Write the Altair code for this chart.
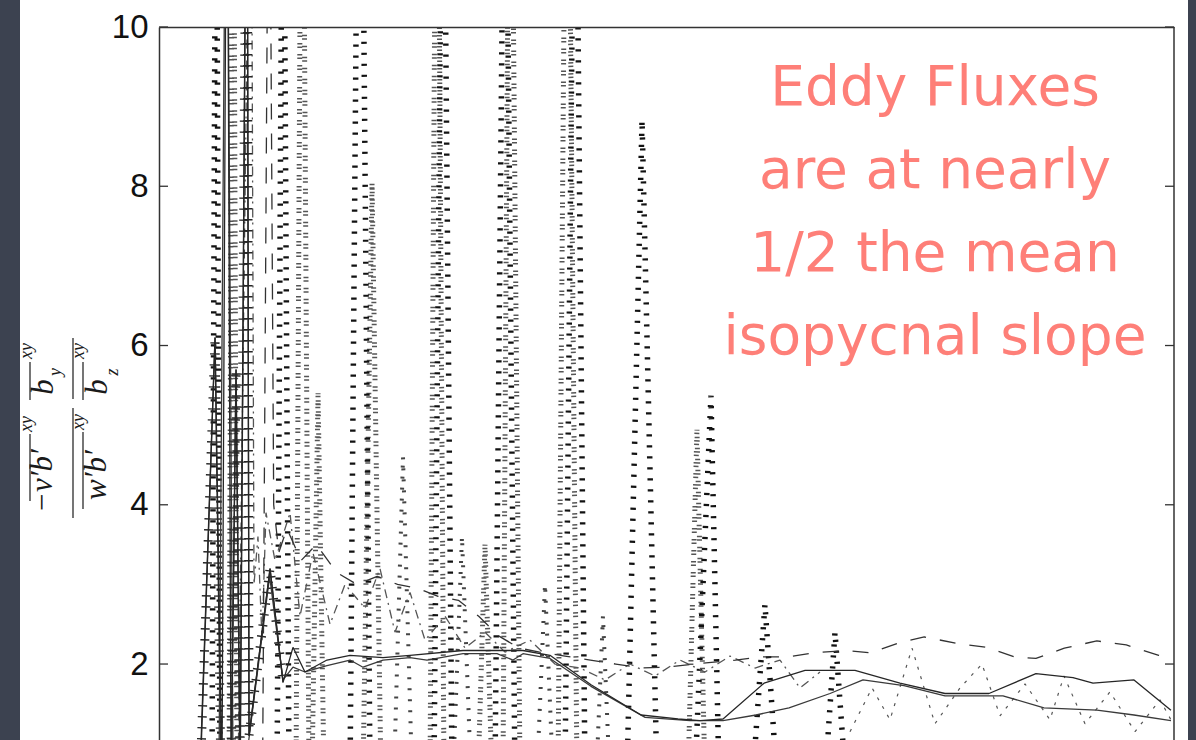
import altair as alt
import pandas as pd

# ---------------------------------------------------------------------------
# Ratio of eddy-flux slope to mean isopycnal slope along the channel
# (x is along-channel position, 0-100 arbitrary units)
# ---------------------------------------------------------------------------

# two smooth (solid) estimates
SOLID_A_X = [4.0, 5.52, 6.2, 6.7, 7.1, 7.59, 8.0, 8.67, 8.87, 10.94, 12.22, 13.2, 14.38, 16.55, 18.82,
             22.07, 24.73, 29.95, 33.3, 35.86, 38.52, 42.56, 47.49, 51.13, 53.3, 55.57, 59.61, 63.65,
             68.57, 73.0, 77.44, 81.77, 86.4, 90.05, 92.02, 96.06, 99.7]
SOLID_A_Y = [0.5, 6.1, 0.5, 14, 0.5, 5.7, 0.5, 14, 1.1, 3.2, 1.77, 2.21, 1.9, 2.05, 2.11,
             2.08, 2.11, 2.17, 2.17, 2.17, 2.11, 1.74, 1.36, 1.31, 1.29, 1.31, 1.76, 1.92,
             1.92, 1.76, 1.63, 1.63, 1.88, 1.83, 1.76, 1.8, 1.42]

SOLID_B_X = [5.9, 6.65, 7.3, 8.8, 10.9, 12.22, 13.2, 14.38, 16.55, 18.82, 20.1, 22.07, 24.73, 26.4,
             29.95, 33.3, 34.88, 35.86, 38.52, 42.56, 47.89, 52.32, 55.57, 58.82, 62.07, 66.11,
             69.36, 73.4, 77.44, 83.15, 87.19, 92.41, 96.06, 99.7]
SOLID_B_Y = [0.5, 14, 0.6, 1.0, 3.1, 1.8, 1.96, 1.9, 1.98, 2.05, 1.96, 2.05, 2.08, 2.05,
             2.13, 2.13, 2.05, 2.13, 2.07, 1.72, 1.33, 1.29, 1.29, 1.36, 1.45, 1.63,
             1.8, 1.73, 1.6, 1.6, 1.45, 1.42, 1.36, 1.29]

# estimate drawn with '+' markers
PLUS_X = [4.04, 5.52, 6.11, 7.09, 7.59, 7.98, 8.67, 8.87, 10.94, 12.22]
PLUS_Y = [0.5, 6.1, 0.5, 0.5, 5.7, 0.6, 14, 1.1, 3.2, 1.77]

# long-dashed estimate
DASH_X = [10.2, 10.84, 11.3, 11.8, 12.6, 14.0, 15.5, 17.5, 19.5, 21.5, 23.5, 25.5, 27.5, 29.5, 31.5,
          33.5, 35.5, 37.5, 40.0, 42.5, 45.0, 47.5, 50.0, 53.5, 56.8, 59.2, 62.0, 64.5, 67.7, 70.1,
          73.0, 75.4, 78.6, 81.5, 84.3, 86.4, 89.2, 92.4, 95.3, 98.5, 99.7]
DASH_Y = [0.5, 14, 4.0, 3.4, 3.7, 3.3, 3.5, 3.15, 3.0, 3.1, 3.0, 2.95, 2.85, 2.8, 2.6,
          2.35, 2.2, 2.15, 2.1, 2.05, 2.0, 1.95, 1.96, 2.01, 2.05, 2.09, 2.09, 2.14, 2.17, 2.14,
          2.27, 2.34, 2.26, 2.21, 2.09, 2.07, 2.2, 2.29, 2.24, 2.11, 2.07]

# dash-dot estimate
DASHDOT_X = [7.78, 9.06, 9.36, 9.75, 10.15, 10.54, 11.43, 12.91, 13.89, 15.17, 16.85, 18.33, 20.3,
             21.77, 23.25, 24.73, 26.21, 28.18, 30.15, 32.12, 34.09, 36.55, 39.01, 41.48, 43.94,
             46.4, 48.87, 51.33, 53.79, 56.26, 58.72, 61.18, 63.15, 65.12]
DASHDOT_Y = [0.5, 14, 3.0, 3.6, 2.3, 3.9, 3.3, 3.9, 2.6, 3.4, 2.5, 3.0, 2.7,
             3.2, 2.4, 2.9, 2.3, 2.6, 2.2, 2.4, 2.15, 2.3, 2.0, 1.95, 1.8,
             2.0, 1.85, 2.05, 1.9, 2.1, 1.95, 2.05, 1.7, 1.9]

# dotted estimates with the large spikes
DOT1_X = [5.22, 5.62, 6.01, 11.63, 12.22, 12.81, 18.82, 19.8, 20.79, 27.09, 27.98, 28.87, 33.1, 34.09,
          35.07, 40.0, 40.99, 41.97, 46.11, 47.59, 49.06, 52.81, 54.38, 55.17, 58.52, 59.7, 60.69,
          65.81, 66.6, 67.39]
DOT1_Y = [0.6, 14, 0.6, 0.6, 14, 0.6, 0.6, 16, 0.6, 0.6, 14, 0.6, 0.6, 14,
          0.6, 0.6, 14, 0.6, 0.6, 8.83, 0.6, 0.6, 5.37, 0.6, 0.6, 2.75, 0.9,
          0.9, 2.4, 1.0]

DOT2_X = [6.9, 7.29, 7.68, 13.5, 14.09, 14.78, 15.07, 15.67, 16.26, 20.1, 20.99, 21.87, 26.7, 27.39,
          28.08, 31.43, 32.12, 32.81, 33.89, 34.58, 35.57, 39.31, 40.2, 41.18, 52.12, 53.0, 53.79]
DOT2_Y = [0.6, 15, 0.6, 0.6, 15, 0.6, 0.6, 5.4, 0.6, 0.6, 8.04, 0.6, 0.6, 15,
          0.6, 0.6, 3.5, 0.6, 0.6, 15, 0.6, 0.6, 15, 0.6, 0.6, 4.94, 0.6]

DOT3_X = [23.15, 24.04, 24.93, 28.97, 29.85, 30.74, 37.24, 38.03, 38.82, 43.15, 43.74, 44.33]
DOT3_Y = [0.6, 4.6, 0.6, 0.6, 3.6, 0.6, 0.6, 3.0, 0.6, 0.8, 2.6, 0.8]

# short-dashed wiggle on the downstream end
WIGGLE_X = [68.08, 70.25, 72.02, 74.19, 76.45, 78.92, 81.08, 82.86, 85.32, 87.78, 89.16, 91.23,
            93.69, 96.16, 98.62, 99.7]
WIGGLE_Y = [1.15, 1.7, 1.3, 2.2, 1.25, 1.7, 2.0, 1.35, 1.75, 1.3, 1.85, 1.25, 1.65, 1.15, 1.55, 1.3]

Y_TICKS = [2, 4, 6, 8, 10]
NOTE_LINES = ["Eddy Fluxes", "are at nearly", "1/2 the mean", "isopycnal slope"]

# pieces of the stacked-fraction y label: (text, x, y, size)
LABEL_TEXT = [("\u2212v\u2032b\u2032", -116, 454, 31), ("xy", -132, 397, 18),
              ("w\u2032b\u2032", -62, 448, 31), ("xy", -80, 395, 18),
              ("b", -115, 360, 31), ("y", -103, 345, 18), ("xy", -132, 324, 18),
              ("b", -61, 360, 31), ("z", -46, 345, 18), ("xy", -80, 324, 18)]
# overlines and fraction bars of the label: (x, y_top, y_bottom)
LABEL_BARS = [(-129, 407, 474), (-76, 405, 482), (-129, 335, 373), (-76, 335, 373),
              (-86, 311, 372), (-86, 381, 491)]

W, H = 1015, 713
X_SCALE = alt.Scale(domain=[0, 100], nice=False, zero=False)
Y_SCALE = alt.Scale(domain=[1.046, 10], nice=False, zero=False)
ONE = pd.DataFrame({"k": [0]})
INK = "#262626"
FRAME = "#333333"

# the same axis definitions are used by every layer so they merge cleanly;
# zindex 1 keeps them above the white panel
X_AXIS = alt.Axis(orient="top", labels=False, ticks=False, grid=False, title=None,
                  domainColor=FRAME, domainWidth=1.5, zindex=1)
Y_AXIS = alt.Axis(values=Y_TICKS, ticks=False, grid=False, title=None, domainColor=FRAME,
                  domainWidth=1.5, labelFont="Liberation Sans", labelFontSize=33,
                  labelColor="#111111", labelPadding=11, zindex=1)


def series(xs, ys, color, width, dash=None):
    df = pd.DataFrame({"x": xs, "y": ys, "i": list(range(len(xs)))})
    kw = dict(color=color, strokeWidth=width, clip=True, strokeCap="butt", strokeJoin="bevel")
    if dash:
        kw["strokeDash"] = dash
    return alt.Chart(df).mark_line(**kw).encode(
        x=alt.X("x:Q", scale=X_SCALE, axis=X_AXIS),
        y=alt.Y("y:Q", scale=Y_SCALE, axis=Y_AXIS),
        order="i:Q",
    )


panel = alt.Chart(ONE).mark_rect(color="white").encode(
    x=alt.value(-139), x2=alt.value(1029), y=alt.value(-27), y2=alt.value(H))

layers = [
    panel,
    series(DOT3_X, DOT3_Y, "#444444", 4, [2, 9]),
    series(DOT2_X, DOT2_Y, "#555555", 5, [1.5, 2, 1.5, 6]),
    series(DOT1_X, DOT1_Y, "#111111", 5.5, [2.2, 8.8]),
    series(WIGGLE_X, WIGGLE_Y, "#555555", 1.2, [3, 7]),
    series(DASHDOT_X, DASHDOT_Y, "#555555", 1.3, [9, 5, 2, 5]),
    series(DASH_X, DASH_Y, "#333333", 1.3, [16, 14]),
    series(PLUS_X, PLUS_Y, INK, 1.3),
    series(PLUS_X, PLUS_Y, INK, 9, [1.4, 9.6]),
    series(SOLID_B_X, SOLID_B_Y, "#3a3a3a", 1.3),
    series(SOLID_A_X, SOLID_A_Y, INK, 1.3),
]

ticks_df = pd.DataFrame({"y": Y_TICKS})
left_ticks = alt.Chart(ticks_df).mark_rule(color=FRAME, strokeWidth=1.3).encode(
    y=alt.Y("y:Q", scale=Y_SCALE, axis=Y_AXIS), x=alt.value(0), x2=alt.value(9))
right_ticks = alt.Chart(ticks_df).mark_rule(color=FRAME, strokeWidth=1.3).encode(
    y=alt.Y("y:Q", scale=Y_SCALE, axis=Y_AXIS), x=alt.value(W - 9), x2=alt.value(W))
right_frame = alt.Chart(ONE).mark_rule(color=FRAME, strokeWidth=1.5).encode(
    x=alt.value(W), y=alt.value(0), y2=alt.value(H))
layers += [left_ticks, right_ticks, right_frame]

for txt, tx, ty, size in LABEL_TEXT:
    layers.append(alt.Chart(ONE).mark_text(
        text=txt, angle=270, align="center", baseline="middle", font="Liberation Serif",
        fontStyle="italic", fontSize=size, color="#1a1a1a").encode(x=alt.value(tx), y=alt.value(ty)))
for bx, by1, by2 in LABEL_BARS:
    layers.append(alt.Chart(ONE).mark_rule(color="#1a1a1a", strokeWidth=1.2).encode(
        x=alt.value(bx), y=alt.value(by1), y2=alt.value(by2)))

note = alt.Chart(ONE).mark_text(
    text=NOTE_LINES, align="center", baseline="alphabetic", font="DejaVu Sans", fontSize=55,
    lineHeight=83, color="#fe7f78").encode(x=alt.value(776), y=alt.value(78))
layers.append(note)

chart = alt.layer(*layers).properties(
    width=W, height=H,
    autosize=alt.AutoSizeParams(type="none"),
    padding={"left": 159, "top": 27, "right": 22, "bottom": 0},
    background="#3c4250",
).configure_view(stroke=None)

chart.save("out.html", embed_options={"renderer": "svg", "actions": False})
